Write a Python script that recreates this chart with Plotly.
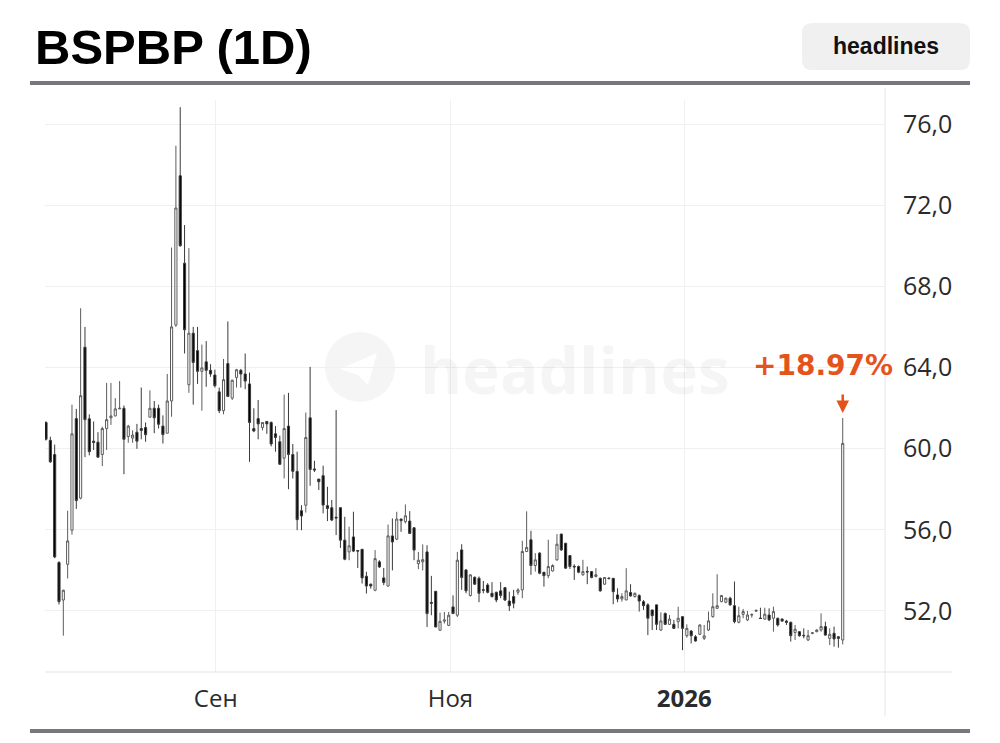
import plotly.graph_objects as go

# ---------------- data (daily candles) ----------------
opens = [61.29, 60.41, 59.71, 54.39, 52.54, 54.30, 55.98, 61.48, 57.56, 65.00,
         61.47, 60.37, 60.32, 59.71, 60.99, 61.52, 61.61, 61.96, 61.99, 60.60,
         60.52, 60.81, 60.99, 61.04, 61.55, 61.99, 61.99, 61.11, 60.76, 62.35,
         66.09, 73.45, 69.14, 63.15, 65.69, 64.83, 63.81, 64.28, 63.86, 63.63,
         62.80, 61.87, 64.19, 62.49, 63.51, 63.86, 63.68, 63.19, 60.99, 61.48,
         61.04, 61.34, 61.29, 60.73, 60.34, 59.53, 61.11, 59.71, 58.88, 56.94,
         57.21, 61.52, 59.00, 58.50, 58.67, 57.19, 57.09, 56.62, 57.09, 55.49,
         54.91, 55.65, 54.98, 55.04, 53.71, 53.32, 53.02, 54.42, 53.63, 53.23,
         55.70, 55.54, 56.53, 56.40, 56.43, 56.10, 54.33, 54.42, 54.91, 52.42,
         52.97, 51.05, 51.50, 51.29, 52.20, 51.79, 55.01, 54.02, 52.76, 53.66,
         53.61, 53.05, 53.28, 52.87, 52.92, 52.99, 53.15, 52.49, 52.71, 52.92,
         53.04, 54.93, 55.51, 54.24, 54.85, 53.91, 53.74, 53.97, 54.52, 55.79,
         55.34, 54.73, 54.20, 54.19, 53.78, 53.95, 53.94, 53.70, 53.61, 53.32,
         53.62, 53.61, 52.79, 52.59, 52.54, 52.91, 52.71, 52.76, 52.46, 52.30,
         52.05, 52.30, 51.06, 51.88, 51.34, 51.34, 51.47, 51.72, 50.78, 51.01,
         50.73, 50.85, 50.65, 51.06, 51.72, 52.13, 52.46, 52.43, 52.63, 52.26,
         51.44, 51.83, 51.56, 51.80, 51.99, 51.65, 51.60, 51.80, 51.64, 51.64,
         51.60, 51.50, 51.44, 50.94, 50.98, 50.80, 50.57, 50.90, 50.98, 51.06,
         51.23, 50.65, 50.90, 50.73, 50.57]
highs = [61.35, 60.59, 60.20, 54.45, 53.05, 56.94, 62.17, 61.96, 66.92, 66.00,
         61.69, 61.34, 60.81, 61.08, 63.24, 63.24, 62.49, 63.33, 62.13, 61.17,
         60.90, 61.22, 63.01, 61.29, 62.87, 62.35, 62.17, 61.64, 63.68, 69.91,
         74.93, 76.83, 71.02, 69.88, 66.00, 66.00, 65.13, 65.30, 64.16, 63.89,
         63.01, 64.42, 66.27, 63.40, 63.93, 63.93, 64.69, 63.75, 61.99, 62.40,
         61.30, 61.35, 61.34, 61.11, 60.64, 62.66, 62.75, 60.23, 59.85, 57.21,
         61.78, 64.03, 59.40, 58.50, 59.16, 58.12, 57.47, 61.90, 57.10, 56.64,
         56.15, 56.89, 55.00, 55.05, 53.93, 53.35, 55.00, 54.50, 54.12, 56.26,
         56.56, 56.89, 56.55, 57.25, 56.92, 56.12, 54.91, 55.28, 55.24, 53.73,
         52.98, 51.92, 51.95, 51.95, 52.77, 54.91, 55.29, 54.07, 53.81, 53.70,
         53.70, 53.48, 53.37, 53.42, 52.95, 53.42, 53.16, 52.95, 53.04, 53.12,
         55.46, 56.91, 55.95, 54.85, 54.90, 53.92, 55.51, 54.30, 55.79, 55.80,
         55.35, 54.75, 54.30, 54.24, 54.52, 54.19, 53.97, 54.11, 53.65, 53.66,
         53.65, 53.62, 53.12, 52.87, 54.11, 53.32, 52.91, 52.82, 52.54, 52.38,
         52.05, 52.30, 51.93, 51.92, 51.80, 51.56, 52.21, 51.73, 51.34, 51.06,
         50.81, 51.34, 51.31, 51.97, 52.87, 53.81, 52.79, 52.66, 52.70, 53.45,
         52.21, 52.10, 52.00, 51.88, 52.06, 52.16, 52.16, 52.13, 52.21, 51.67,
         51.64, 51.56, 51.47, 51.31, 51.01, 51.14, 51.06, 50.95, 51.10, 51.88,
         51.47, 51.14, 51.23, 50.74, 61.51]
lows = [60.40, 59.30, 54.60, 52.32, 50.78, 53.60, 55.76, 57.03, 57.50, 59.58,
        59.67, 59.93, 59.55, 59.14, 59.93, 61.17, 61.60, 61.95, 58.74, 60.29,
        60.29, 59.99, 60.46, 60.34, 61.55, 60.76, 60.99, 60.25, 60.76, 61.57,
        66.00, 69.95, 64.69, 62.75, 62.17, 63.19, 61.87, 63.05, 63.54, 63.01,
        61.75, 61.69, 62.57, 62.40, 63.01, 63.01, 62.93, 59.35, 60.81, 60.46,
        60.90, 60.73, 60.11, 59.85, 59.20, 58.53, 58.00, 58.53, 55.98, 55.98,
        56.85, 58.17, 58.85, 57.96, 56.81, 56.43, 56.43, 55.74, 55.11, 54.50,
        54.50, 54.90, 54.12, 53.35, 52.86, 53.10, 52.97, 54.12, 53.27, 53.20,
        54.00, 55.49, 55.90, 56.31, 55.80, 54.50, 54.06, 54.00, 51.21, 51.79,
        51.20, 51.03, 51.38, 51.25, 51.85, 51.70, 53.04, 52.87, 52.71, 53.28,
        52.43, 52.87, 52.87, 52.66, 52.43, 52.63, 52.49, 52.00, 52.13, 52.79,
        52.63, 54.90, 53.78, 53.94, 53.81, 53.20, 53.61, 53.94, 54.47, 54.96,
        54.07, 54.07, 53.53, 53.86, 53.74, 53.32, 53.61, 53.65, 52.95, 53.28,
        53.55, 52.33, 52.43, 52.46, 52.54, 52.71, 52.66, 51.97, 52.05, 50.81,
        51.06, 51.06, 51.01, 51.31, 51.31, 51.11, 51.14, 50.07, 50.68, 50.40,
        50.49, 50.81, 50.57, 51.01, 51.67, 52.10, 52.43, 52.38, 52.26, 51.39,
        51.39, 51.64, 51.50, 51.67, 51.96, 51.60, 51.56, 51.50, 50.98, 51.23,
        51.47, 51.31, 50.49, 50.57, 50.73, 50.65, 50.52, 50.85, 50.95, 50.98,
        50.78, 50.32, 50.24, 50.19, 50.35]
closes = [60.46, 59.35, 54.66, 52.46, 53.02, 55.45, 60.73, 57.44, 62.61, 61.43,
          59.85, 60.30, 59.58, 60.99, 61.43, 61.61, 61.96, 61.99, 60.46, 61.11,
          60.67, 60.37, 60.90, 60.69, 61.99, 61.52, 61.20, 60.69, 62.35, 66.00,
          71.86, 70.00, 65.86, 65.69, 64.25, 63.81, 63.98, 63.86, 63.68, 63.10,
          61.87, 63.40, 62.57, 63.37, 63.89, 63.68, 63.33, 61.29, 60.87, 61.22,
          61.29, 61.22, 60.23, 60.55, 59.23, 60.99, 59.71, 58.88, 56.50, 56.68,
          60.55, 58.97, 58.95, 58.37, 57.22, 57.05, 56.48, 56.58, 55.49, 54.55,
          55.21, 54.95, 54.95, 53.63, 53.23, 53.23, 54.58, 54.17, 53.40, 55.70,
          55.40, 56.53, 56.45, 56.69, 55.82, 55.00, 54.50, 54.53, 51.87, 52.38,
          51.21, 51.49, 51.55, 51.79, 51.87, 54.50, 53.65, 52.99, 53.78, 53.32,
          52.87, 53.02, 52.92, 52.71, 52.54, 52.76, 52.54, 52.26, 52.38, 53.04,
          54.93, 55.13, 54.24, 54.52, 53.86, 53.74, 54.19, 54.24, 55.29, 55.01,
          54.11, 54.19, 54.17, 53.91, 53.94, 53.92, 53.65, 53.78, 52.99, 53.65,
          53.60, 52.95, 52.59, 52.71, 52.99, 52.74, 52.87, 52.49, 52.26, 51.64,
          51.77, 51.34, 51.51, 51.34, 51.60, 51.14, 51.64, 51.14, 51.14, 50.78,
          50.52, 51.31, 50.77, 51.51, 52.21, 52.26, 52.76, 52.63, 52.30, 51.47,
          51.77, 51.97, 51.80, 51.82, 52.03, 51.63, 51.84, 51.56, 51.97, 51.31,
          51.50, 51.44, 50.78, 51.10, 50.78, 50.78, 50.78, 50.92, 51.06, 51.23,
          50.81, 50.85, 50.62, 50.65, 60.26]
candle_idx = list(range(len(opens)))

x_tick_pos = [39.2, 93.4, 147.4]
x_tick_text = ["Сен", "Ноя", "<b>2026</b>"]
y_tick_vals = [52, 56, 60, 64, 68, 72, 76]

title_text = "BSPBP (1D)"
brand_text = "headlines"
change_text = "+18.97%"

# ---------------- layout geometry ----------------
W, H = 1000, 743
L, R, T, B = 45, 115, 100, 71
PW, PH = W - L - R, H - T - B
STEP = 4.33          # px per candle
X0 = 46              # pixel of first candle
PXU = 20.29          # px per price unit
Y76 = 124            # pixel of 76.0

x_range = [(L - X0) / STEP, (W - R - X0) / STEP]
y_range = [76 - (H - B - Y76) / PXU, 76 + (Y76 - T) / PXU]


def px(x):
    return (x - L) / PW


def py(y):
    return (H - B - y) / PH


ORANGE = "#e5531c"
TXT = "#2b2b2b"

fig = go.Figure()
fig.add_trace(go.Candlestick(
    x=candle_idx, open=opens, high=highs, low=lows, close=closes,
    increasing=dict(line=dict(color="#5c5c5c", width=1), fillcolor="#ffffff"),
    decreasing=dict(line=dict(color="#3a3a3a", width=1), fillcolor="#000000"),
    whiskerwidth=0, hoverinfo="skip", showlegend=False,
))

shapes = []
# thick separators
for yy in (83, 731):
    shapes.append(dict(type="line", xref="paper", yref="paper",
                       x0=px(30), x1=px(970), y0=py(yy), y1=py(yy),
                       line=dict(color="#77777d", width=4)))
# bottom axis line
shapes.append(dict(type="line", xref="paper", yref="paper",
                   x0=0, x1=px(952), y0=0, y1=0,
                   line=dict(color="#e3e3e3", width=1)))
# right border
shapes.append(dict(type="line", xref="paper", yref="paper",
                   x0=1, x1=1, y0=py(716), y1=py(88),
                   line=dict(color="#e6e6e6", width=1)))
# brand button (rounded rect)
bx0, bx1, by0, by1, r = 802, 970, 23, 70, 10
path = (f"M {px(bx0 + r)},{py(by0)} L {px(bx1 - r)},{py(by0)} "
        f"Q {px(bx1)},{py(by0)} {px(bx1)},{py(by0 + r)} "
        f"L {px(bx1)},{py(by1 - r)} Q {px(bx1)},{py(by1)} {px(bx1 - r)},{py(by1)} "
        f"L {px(bx0 + r)},{py(by1)} Q {px(bx0)},{py(by1)} {px(bx0)},{py(by1 - r)} "
        f"L {px(bx0)},{py(by0 + r)} Q {px(bx0)},{py(by0)} {px(bx0 + r)},{py(by0)} Z")
shapes.append(dict(type="path", xref="paper", yref="paper", path=path,
                   fillcolor="#f0f0f0", line=dict(width=0)))
# watermark circle + plane
cx, cy, cr = 360, 367, 35
shapes.append(dict(type="circle", xref="paper", yref="paper",
                   x0=px(cx - cr), x1=px(cx + cr), y0=py(cy + cr), y1=py(cy - cr),
                   fillcolor="#f5f5f5", line=dict(width=0), layer="below"))
plane = (f"M {px(cx - 20)},{py(cy + 2)} L {px(cx + 17)},{py(cy - 14)} "
         f"L {px(cx + 8)},{py(cy + 18)} L {px(cx - 2)},{py(cy + 8)} Z")
shapes.append(dict(type="path", xref="paper", yref="paper", path=plane,
                   fillcolor="#ffffff", line=dict(width=0), layer="below"))

annotations = [
    dict(text=f"<b>{title_text}</b>", xref="paper", yref="paper",
         x=px(33), y=py(47), xanchor="left", yanchor="middle", showarrow=False,
         font=dict(family="Liberation Sans, Arial", size=49, color="#000000")),
    dict(text=f"<b>{brand_text}</b>", xref="paper", yref="paper",
         x=px(886), y=py(46), xanchor="center", yanchor="middle", showarrow=False,
         font=dict(family="Liberation Sans, Arial", size=23, color="#111111")),
    dict(text=f"<b>{brand_text}</b>", xref="paper", yref="paper",
         x=px(575), y=py(370), xanchor="center", yanchor="middle", showarrow=False,
         font=dict(family="Open Sans", size=64, color="rgba(0,0,0,0.04)")),
    dict(text=f"<b>{change_text}</b>", xref="paper", yref="paper",
         x=px(823), y=py(365), xanchor="center", yanchor="middle", showarrow=False,
         font=dict(family="DejaVu Sans", size=28, color=ORANGE)),
    dict(text="", x=candle_idx[-1], y=highs[-1] + 0.25, xref="x", yref="y",
         showarrow=True, arrowhead=2, arrowsize=1, arrowwidth=2.5,
         arrowcolor=ORANGE, ax=0, ay=-20),
]

fig.update_layout(
    width=W, height=H,
    margin=dict(l=L, r=R, t=T, b=B, pad=0),
    paper_bgcolor="#ffffff", plot_bgcolor="#ffffff",
    separators=", ",
    shapes=shapes, annotations=annotations,
    showlegend=False,
    xaxis=dict(range=x_range, tickmode="array", tickvals=x_tick_pos, ticktext=x_tick_text,
               showgrid=True, gridcolor="#f0f0f0", gridwidth=1, zeroline=False,
               showline=False, ticks="", ticklabelstandoff=10,
               tickfont=dict(family="Open Sans", size=24, color=TXT),
               rangeslider=dict(visible=False), fixedrange=True),
    yaxis=dict(range=y_range, side="right", tickmode="array", tickvals=y_tick_vals,
               tickformat=".1f", showgrid=True, gridcolor="#f0f0f0", gridwidth=1,
               zeroline=False, showline=False, ticks="", ticklabelstandoff=17,
               tickfont=dict(family="Open Sans", size=25, color=TXT), fixedrange=True),
)

fig.write_html("out.html", config={"displayModeBar": False},
               post_script="document.body.style.margin='0';")
